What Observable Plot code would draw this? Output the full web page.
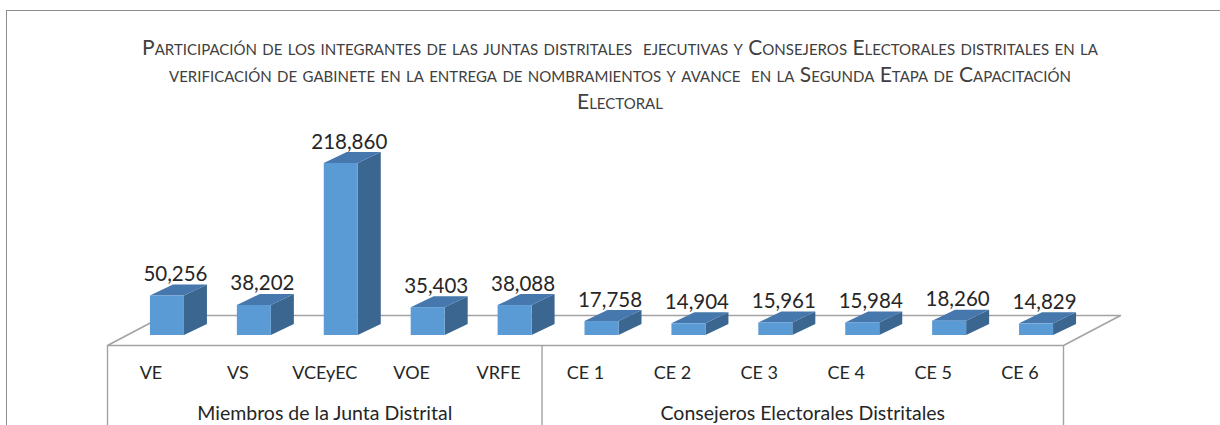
<!DOCTYPE html>
<html>
<head>
<meta charset="utf-8">
<script src="https://cdn.jsdelivr.net/npm/d3@7"></script>
<script src="https://cdn.jsdelivr.net/npm/@observablehq/plot@0.6"></script>
<style>
  html, body { margin: 0; padding: 0; background: #fff; width: 1220px; height: 425px; overflow: hidden; position: relative; }
  #frame { position: absolute; left: 6px; top: 10px; width: 1300px; height: 600px; border: 1.5px solid #8c8c8c; box-sizing: border-box; }
  #title { position: absolute; left: 0; top: 33px; width: 1240px; text-align: center; font-family: Lato, sans-serif; font-variant: small-caps; font-size: 21px; line-height: 27px; color: #404040; white-space: pre; }
  #chart { position: absolute; left: 0; top: 120px; }
</style>
</head>
<body>
<div id="frame"></div>
<div id="title"></div>
<div id="chart"></div>
<script>
// ---- data ----
const categories = ["VE", "VS", "VCEyEC", "VOE", "VRFE", "CE 1", "CE 2", "CE 3", "CE 4", "CE 5", "CE 6"];
const values = [50256, 38202, 218860, 35403, 38088, 17758, 14904, 15961, 15984, 18260, 14829];
const groupNames = ["Miembros de la Junta Distrital", "Consejeros Electorales Distritales"];
const groupOf = [0, 0, 0, 0, 0, 1, 1, 1, 1, 1, 1];
const titleLines = [
  "Participación de los integrantes de las juntas distritales  ejecutivas y Consejeros Electorales distritales en la",
  "verificación de gabinete en la entrega de nombramientos y avance  en la Segunda Etapa de Capacitación",
  "Electoral"
];

document.getElementById("title").textContent = titleLines.join("\n");

// ---- layout (pixels) ----
const W = 1220, H = 305;
const xRange = [107, 1063];
const yRange = [215, 43];
const n = categories.length;
const maxV = d3.max(values);
const ux = n / (xRange[1] - xRange[0]);      // data units per px (x)
const uy = maxV / (yRange[0] - yRange[1]);   // data units per px (y)

const barShift = 16.5, barHalf = 17, depthX = 23, depthY = 11;
const floorFront = -10, floorDepthX = 57, floorDepthY = 30;

const bars = categories.map((c, i) => {
  const cx = i + 0.5 + barShift * ux;
  return {i, c, v: values[i], cx, xl: cx - barHalf * ux, xr: cx + barHalf * ux};
});
const dX = depthX * ux, dY = depthY * uy;

const sideData = bars.flatMap(b => [
  {i: b.i, x: b.xr, y1: 0, y2: b.v},
  {i: b.i, x: b.xr + dX, y1: dY, y2: b.v + dY}
]);
const topData = bars.flatMap(b => [
  {i: b.i, y: b.v, x1: b.xl, x2: b.xr},
  {i: b.i, y: b.v + dY, x1: b.xl + dX, x2: b.xr + dX}
]);

const fy = floorFront * uy, by = fy + floorDepthY * uy, bx = floorDepthX * ux;
const floor = [
  {x: 0, y: fy}, {x: bx, y: by}, {x: n + bx, y: by}, {x: n, y: fy}, {x: 0, y: fy}
];

// group spans from membership
const groups = groupNames.map((g, k) => {
  const idx = groupOf.map((gi, i) => gi === k ? i : -1).filter(i => i >= 0);
  return {name: g, start: d3.min(idx), end: d3.max(idx) + 1};
});
const dividers = [0, ...groups.map(g => g.end)];
const bottomY = -(H - yRange[0]) * uy;

const grid = "#a3a3a3";
const txt = "#262626";

const plot = Plot.plot({
  width: W,
  height: H,
  marginTop: 0, marginBottom: 0, marginLeft: 0, marginRight: 0,
  x: {domain: [0, n], range: xRange, axis: null},
  y: {domain: [0, maxV], range: yRange, axis: null},
  style: {fontFamily: "Lato, sans-serif", background: "transparent", color: txt, overflow: "visible"},
  marks: [
    Plot.line(floor, {x: "x", y: "y", stroke: grid, strokeWidth: 1.6, curve: "linear"}),
    Plot.ruleX(dividers, {x: d => d, y1: fy, y2: bottomY, stroke: grid, strokeWidth: 1.4}),
    Plot.areaY(sideData, {x: "x", y1: "y1", y2: "y2", z: "i", fill: "#3a6690", curve: "linear"}),
    Plot.areaX(topData, {y: "y", x1: "x1", x2: "x2", z: "i", fill: "#4677ad", curve: "linear"}),
    Plot.rect(bars, {x1: "xl", x2: "xr", y1: 0, y2: "v", fill: "#5b9bd5"}),
    Plot.text(bars, {x: d => d.cx + 8 * ux, y: d => d.v + dY, text: d => d3.format(",")(d.v),
      lineAnchor: "bottom", dy: -4, fontSize: 20.5, fill: txt}),
    Plot.text(bars, {x: d => d.i + 0.5, y: -38 * uy, text: "c", fontSize: 18, fill: txt, lineAnchor: "middle"}),
    Plot.text(groups, {x: d => (d.start + d.end) / 2, y: -78 * uy, text: "name", fontSize: 19.5, fill: txt, lineAnchor: "middle"})
  ]
});
document.getElementById("chart").appendChild(plot);
</script>
</body>
</html>
